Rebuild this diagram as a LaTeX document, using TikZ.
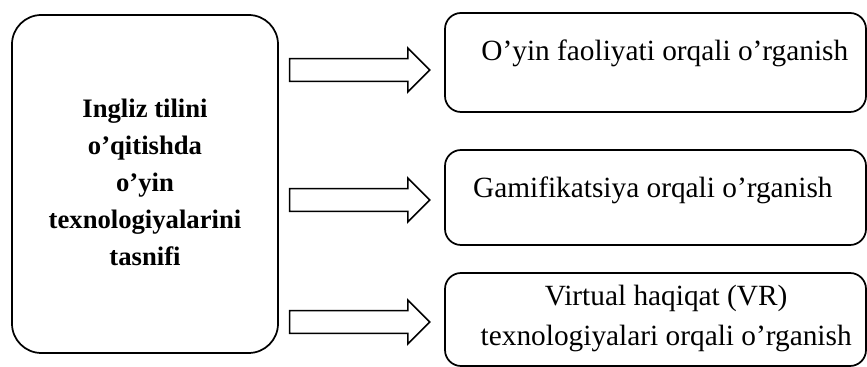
\documentclass[tikz,border=0pt]{standalone}
\usepackage{fontspec}
\setmainfont{Liberation Serif}
\usetikzlibrary{positioning,shapes.arrows}

\tikzset{
  mainbox/.style={draw,line width=1.3pt,rounded corners=22pt,minimum width=199.5pt,minimum height=253.5pt,inner sep=0pt},
  itembox/.style={draw,line width=1.3pt,rounded corners=12pt,minimum width=315.75pt,inner sep=0pt},
  blockarrow/.style={draw,line width=1.2pt,single arrow,single arrow head extend=7.9pt,
    inner xsep=0pt,inner ysep=7.9pt,minimum height=105pt,single arrow tip angle=90},
  maintext/.style={align=center,font=\fontsize{20pt}{27.75pt}\selectfont\bfseries},
  itemtext/.style={align=center,font=\fontsize{22pt}{30pt}\selectfont}
}

\begin{document}
\begin{tikzpicture}[x=0.75pt,y=0.75pt]
  \useasboundingbox (0,0) rectangle (867,367);
  % chap tomondagi asosiy blok
  \node[mainbox] (tasnif) at (145,183) {};
  \node[maintext] (tasniftxt) at ([yshift=1pt]tasnif.center)
    {Ingliz tilini\\o’qitishda\\o’yin\\texnologiyalarini\\tasnifi};
  % o'ng tomondagi bloklar
  \node[itembox,minimum height=74.25pt] (oyin) at (655.5,304.5) {};
  \node[itembox,minimum height=71.25pt] (gamif) at (655.5,169.5) {};
  \node[itembox,minimum height=69.75pt] (vr) at (655.5,47.5) {};
  \node[itemtext] (oyintxt) at ([xshift=7pt,yshift=7pt]oyin.center) {O’yin faoliyati orqali o’rganish};
  \node[itemtext] (gamiftxt) at ([xshift=-2pt,yshift=5pt]gamif.center) {Gamifikatsiya orqali o’rganish};
  \node[itemtext] (vrtxt) at ([xshift=8pt,yshift=1pt]vr.center) {Virtual haqiqat (VR)\\texnologiyalari orqali o’rganish};
  % strelkalar
  \node[blockarrow] (arr1) at (354,297) {};
  \node[blockarrow] (arr2) at (354,167) {};
  \node[blockarrow] (arr3) at (354,45) {};
\end{tikzpicture}
\end{document}
